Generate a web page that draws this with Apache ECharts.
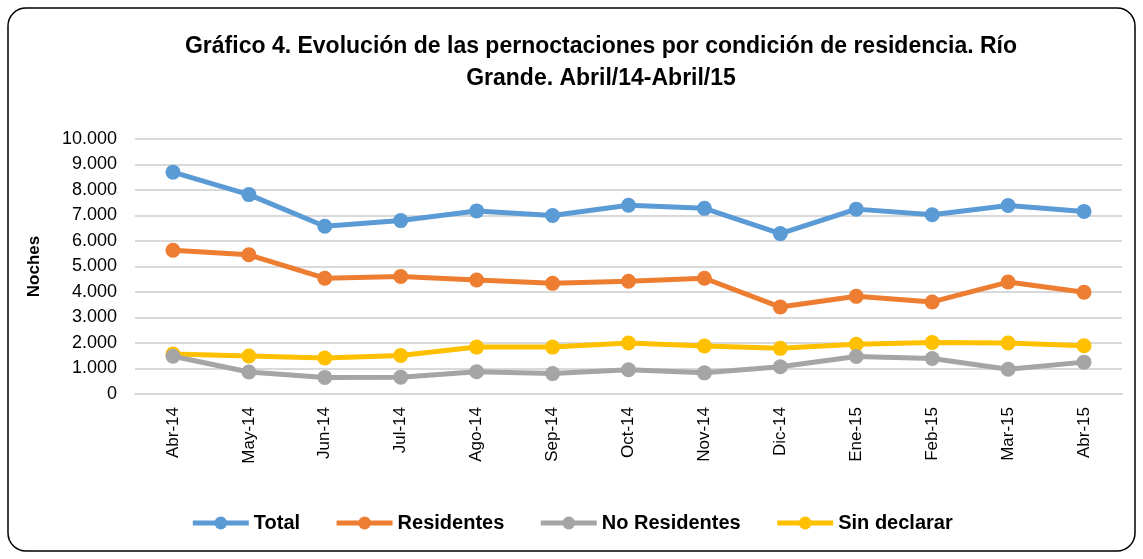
<!DOCTYPE html>
<html><head><meta charset="utf-8">
<script src="https://cdn.jsdelivr.net/npm/echarts@6/dist/echarts.min.js"></script>
<style>html,body{margin:0;padding:0;background:#fff}#c{width:1143px;height:559px}</style>
</head><body><div id="c"></div>
<script>
const categories = ["Abr-14","May-14","Jun-14","Jul-14","Ago-14","Sep-14","Oct-14","Nov-14","Dic-14","Ene-15","Feb-15","Mar-15","Abr-15"];
const total = [8700,7820,6580,6800,7180,7000,7400,7280,6290,7250,7030,7390,7160];
const residentes = [5640,5460,4540,4610,4470,4340,4420,4540,3410,3830,3610,4390,3990];
const noResidentes = [1480,860,650,660,870,800,950,830,1070,1470,1390,970,1250];
const sinDeclarar = [1570,1490,1410,1510,1840,1840,2000,1880,1790,1950,2020,2000,1890];
const seriesNames = ["Total","Residentes","No Residentes","Sin declarar"];
const colors = ["#5B9BD5","#ED7D31","#A5A5A5","#FFC000"];
const FONT = "Liberation Sans";
const chart = echarts.init(document.getElementById('c'));
const mk = (name, data, i) => ({
  name, type: 'line', data, symbol: 'circle', symbolSize: 15,
  lineStyle: {width: 5, color: colors[i]}, itemStyle: {color: colors[i]}, z: 10 - i
});
chart.setOption({
  animation: false,
  graphic: [{type: 'rect', shape: {x: 8, y: 8, width: 1127, height: 543, r: 18},
    style: {fill: 'none', stroke: '#000', lineWidth: 1.5}, z: -1}],
  title: {text: 'Gráfico 4. Evolución de las pernoctaciones por condición de residencia. Río\nGrande. Abril/14-Abril/15',
    left: 596, textAlign: 'center', top: 26,
    textStyle: {fontFamily: FONT, fontWeight: 'bold', fontSize: 23, lineHeight: 32, color: '#000'}},
  legend: {top: 508, left: 'center', itemWidth: 56, itemHeight: 16, itemGap: 34,
    lineStyle: {width: 5},
    textStyle: {fontFamily: FONT, fontWeight: 'bold', fontSize: 20, color: '#000'},
    data: seriesNames},
  grid: {left: 135, right: 21, top: 139, bottom: 165},
  xAxis: {type: 'category', data: categories, boundaryGap: true,
    axisLine: {lineStyle: {color: '#d9d9d9', width: 2}}, axisTick: {show: false},
    axisLabel: {rotate: 90, fontFamily: FONT, fontSize: 17, color: '#000', margin: 13, interval: 0}},
  yAxis: {type: 'value', min: 0, max: 10000, interval: 1000,
    name: 'Noches', nameLocation: 'middle', nameGap: 92, nameRotate: 90,
    nameTextStyle: {fontFamily: FONT, fontWeight: 'bold', fontSize: 17, color: '#000'},
    axisLine: {show: false}, axisTick: {show: false},
    splitLine: {lineStyle: {color: '#d9d9d9', width: 2}},
    axisLabel: {fontFamily: FONT, fontSize: 18, color: '#000', margin: 18,
      formatter: v => v === 0 ? '0' : (v/1000).toFixed(0) + '.000'}},
  series: [mk(seriesNames[0], total, 0), mk(seriesNames[1], residentes, 1),
           mk(seriesNames[2], noResidentes, 2), mk(seriesNames[3], sinDeclarar, 3)]
});
</script></body></html>
